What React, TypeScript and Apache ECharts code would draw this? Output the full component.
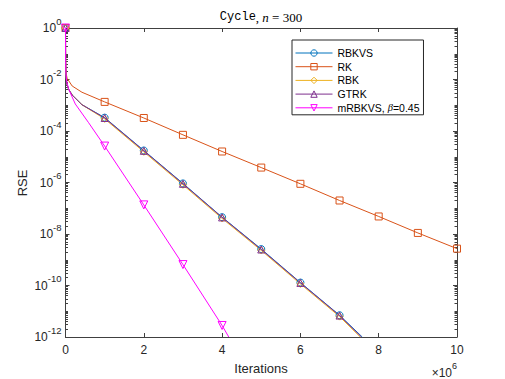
import React, { useEffect, useRef } from "react";
import * as echarts from "echarts";

// x values are in units of 10^6 iterations
const rbkvsX = [0, 0.003, 0.01, 0.03, 0.08, 0.17, 0.42, 1, 2, 3, 4, 5, 6, 7, 7.58];
const rbkvsY = [1, 6.3e-2, 2.0e-2, 7.1e-3, 4.2e-3, 2.5e-3, 1.05e-3, 3.3e-4, 1.75e-5, 9.2e-7, 4.5e-8, 2.6e-9, 1.3e-10, 7.0e-12, 1e-12];

const rkX = [0, 0.003, 0.01, 0.04, 0.17, 0.42, 1, 2, 3, 4, 5, 6, 7, 8, 9, 10];
const rkY = [1, 6.3e-2, 2.0e-2, 1.12e-2, 5.6e-3, 3.2e-3, 1.35e-3, 3.2e-4, 7.1e-5, 1.6e-5, 3.8e-6, 8.9e-7, 2.0e-7, 4.8e-8, 1.1e-8, 2.7e-9];

const rbkX = [0, 0.003, 0.01, 0.03, 0.08, 0.17, 0.42, 1, 2, 3, 4, 5, 6, 7, 7.53];
const rbkY = [1, 6.3e-2, 2.0e-2, 7.1e-3, 4.2e-3, 2.5e-3, 1.05e-3, 2.95e-4, 1.55e-5, 8.1e-7, 4.0e-8, 2.3e-9, 1.15e-10, 6.2e-12, 1e-12];

const gtrkX = [0, 0.003, 0.01, 0.03, 0.08, 0.17, 0.42, 1, 2, 3, 4, 5, 6, 7, 7.56];
const gtrkY = [1, 6.3e-2, 2.0e-2, 7.1e-3, 4.2e-3, 2.5e-3, 1.05e-3, 3.2e-4, 1.7e-5, 8.9e-7, 4.4e-8, 2.5e-9, 1.26e-10, 6.8e-12, 1e-12];

const mrbkvsX = [0, 0.003, 0.01, 0.03, 0.08, 0.25, 0.59, 1, 2, 3, 4, 4.17];
const mrbkvsY = [1, 5e-2, 1.8e-2, 8.5e-3, 4.2e-3, 1.12e-3, 2.1e-4, 2.6e-5, 1.35e-7, 6.5e-10, 2.8e-12, 1e-12];

const seriesNames = ["RBKVS", "RK", "RBK", "GTRK", "mRBKVS"];
const seriesColors = ["#0072BD", "#D95319", "#EDB120", "#7E2F8E", "#FF00FF"];
const xTickValues = [0, 2, 4, 6, 8, 10];

const FONT = "Liberation Sans, Arial, Helvetica, sans-serif";
const AXIS_COLOR = "#404040";
const TEXT_COLOR = "#262626";

function buildData(xs: number[], ys: number[]) {
  return xs.map((x, i) => {
    const item: any = { value: [x, ys[i]] };
    if (!Number.isInteger(x)) item.symbol = "none";
    return item;
  });
}

function minorLogTicks() {
  const out: number[] = [];
  for (let e = -12; e < 0; e++) {
    for (let m = 1; m <= 9; m++) {
      if (m === 1 && e % 2 === 0) continue;
      out.push(m * Math.pow(10, e));
    }
  }
  return out;
}

export default function App() {
  const ref = useRef<HTMLDivElement>(null);
  useEffect(() => {
    const chart = echarts.init(ref.current!, null, { renderer: "svg" });
    const minors = minorLogTicks();
    const yCommon = {
      type: "log" as const,
      logBase: 10,
      min: 1e-12,
      max: 1,
      splitNumber: 6,
      interval: 2,
      splitLine: { show: false },
      minorSplitLine: { show: false },
    };
    const symbols = [
      "circle",
      "rect",
      "diamond",
      "triangle",
      "path://M0,0 L10,0 L5,9 Z",
    ];
    const datas = [
      buildData(rbkvsX, rbkvsY),
      buildData(rkX, rkY),
      buildData(rbkX, rbkY),
      buildData(gtrkX, gtrkY),
      buildData(mrbkvsX, mrbkvsY),
    ];
    const series = seriesNames.map((name, i) => ({
      name,
      type: "line",
      data: datas[i],
      symbol: symbols[i],
      symbolSize: i === 4 ? 8 : 7,
      showAllSymbol: true,
      lineStyle: { color: seriesColors[i], width: 1 },
      itemStyle: { color: "rgba(0,0,0,0)", borderColor: seriesColors[i], borderWidth: 1 },
      color: seriesColors[i],
      emphasis: { disabled: true },
      xAxisIndex: 0,
      yAxisIndex: 0,
    }));
    const supRich = {
      b: { fontSize: 12, lineHeight: 24, fontFamily: FONT, color: TEXT_COLOR },
      s: { fontSize: 9.5, lineHeight: 9.5, fontFamily: FONT, color: TEXT_COLOR, verticalAlign: "top" },
    };
    chart.setOption({
      animation: false,
      backgroundColor: "#ffffff",
      grid: { left: 65.5, right: 48, top: 28, bottom: 42, containLabel: false },
      xAxis: [
        {
          type: "value",
          min: 0,
          max: 10,
          interval: 2,
          position: "bottom",
          axisLine: { show: true, onZero: false, lineStyle: { color: AXIS_COLOR, width: 1 } },
          axisTick: { show: true, inside: true, length: 4, lineStyle: { color: AXIS_COLOR } },
          axisLabel: {
            show: true,
            margin: 7,
            fontSize: 12,
            fontFamily: FONT,
            color: TEXT_COLOR,
            customValues: xTickValues,
          },
          splitLine: { show: false },
        },
        {
          type: "value",
          min: 0,
          max: 10,
          interval: 2,
          position: "top",
          axisLine: { show: true, onZero: false, lineStyle: { color: AXIS_COLOR, width: 1 } },
          axisTick: { show: true, inside: true, length: 4, lineStyle: { color: AXIS_COLOR } },
          axisLabel: { show: false },
          splitLine: { show: false },
        },
      ],
      yAxis: [
        {
          ...yCommon,
          position: "left",
          axisLine: { show: true, onZero: false, lineStyle: { color: AXIS_COLOR, width: 1 } },
          axisTick: { show: true, inside: true, length: 4, lineStyle: { color: AXIS_COLOR } },
          axisLabel: {
            show: true,
            margin: 4,
            formatter: (v: number) => {
              const e = Math.round(Math.log10(v));
              return "{b|10}{s|" + e + "}";
            },
            rich: supRich,
          },
        },
        {
          ...yCommon,
          position: "left",
          axisLine: { show: false, onZero: false },
          axisTick: { show: true, inside: true, length: 2.5, customValues: minors, lineStyle: { color: AXIS_COLOR } },
          axisLabel: { show: false },
        },
        {
          ...yCommon,
          position: "right",
          axisLine: { show: true, onZero: false, lineStyle: { color: AXIS_COLOR, width: 1 } },
          axisTick: { show: true, inside: true, length: 4, lineStyle: { color: AXIS_COLOR } },
          axisLabel: { show: false },
        },
        {
          ...yCommon,
          position: "right",
          axisLine: { show: false, onZero: false },
          axisTick: { show: true, inside: true, length: 2.5, customValues: minors, lineStyle: { color: AXIS_COLOR } },
          axisLabel: { show: false },
        },
      ],
      legend: {
        show: true,
        orient: "vertical",
        left: 292,
        top: 40,
        itemWidth: 37,
        itemHeight: 8,
        itemGap: 1.7,
        padding: [7, 4, 1, 3],
        borderColor: "#262626",
        borderWidth: 1,
        backgroundColor: "#ffffff",
        selectedMode: false,
        data: seriesNames,
        lineStyle: { width: 1 },
        itemStyle: { color: "rgba(0,0,0,0)", borderWidth: 1 },
        textStyle: {
          fontSize: 10.5,
          fontFamily: FONT,
          color: "#000000",
          lineHeight: 12,
          rich: {
            i: { fontSize: 10.5, fontFamily: "Liberation Serif, serif", fontStyle: "italic", color: "#000" },
          },
        },
        formatter: (name: string) => (name === "mRBKVS" ? "mRBKVS, {i|β}=0.45" : name),
      },
      graphic: [
        {
          type: "text",
          x: 261,
          y: 17,
          style: {
            text: "{m|Cycle}{r|, }{i|n}{r| = 300}",
            align: "center",
            verticalAlign: "middle",
            rich: {
              m: { fontFamily: "Liberation Mono, DejaVu Sans Mono, monospace", fontSize: 12, fill: "#000" },
              r: { fontFamily: "Liberation Serif, serif", fontSize: 13, fill: "#000" },
              i: { fontFamily: "Liberation Serif, serif", fontSize: 13, fontStyle: "italic", fill: "#000" },
            },
          },
        },
        {
          type: "text",
          x: 261,
          y: 368,
          style: { text: "Iterations", align: "center", verticalAlign: "middle", fontSize: 13, fontFamily: FONT, fill: TEXT_COLOR },
        },
        {
          type: "text",
          x: 22,
          y: 183,
          rotation: Math.PI / 2,
          style: { text: "RSE", align: "center", verticalAlign: "middle", fontSize: 13, fontFamily: FONT, fill: TEXT_COLOR },
        },
        {
          type: "text",
          x: 457,
          y: 372.5,
          style: {
            text: "{b|×10}{s|6}",
            align: "right",
            verticalAlign: "middle",
            rich: {
              b: { fontSize: 12, lineHeight: 22, fontFamily: FONT, fill: TEXT_COLOR },
              s: { fontSize: 9, lineHeight: 9, fontFamily: FONT, fill: TEXT_COLOR, verticalAlign: "top" },
            },
          },
        },
      ],
      series,
    });
    return () => chart.dispose();
  }, []);
  return <div ref={ref} style={{ width: 505, height: 379, position: "absolute", left: 0, top: 0 }} />;
}
